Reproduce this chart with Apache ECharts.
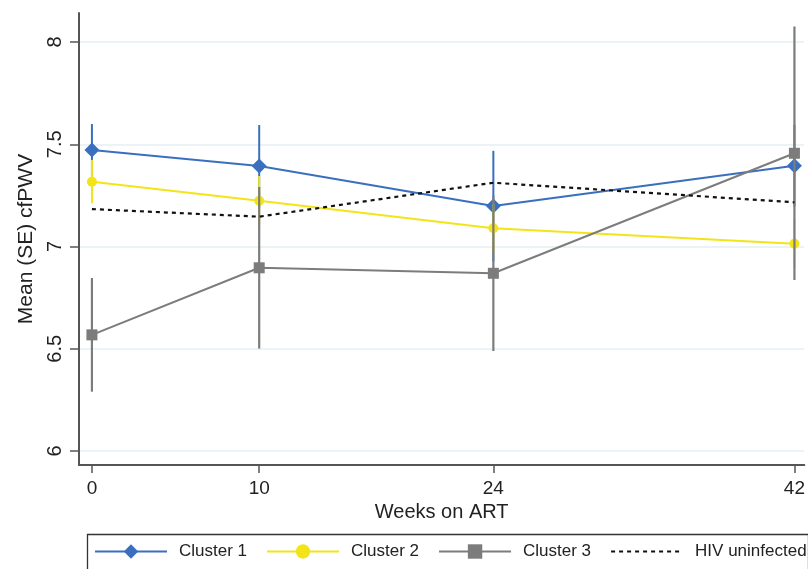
<!DOCTYPE html>
<html>
<head>
<meta charset="utf-8">
<script src="https://cdn.jsdelivr.net/npm/echarts@6/dist/echarts.min.js"></script>
<style>
html,body{margin:0;padding:0;background:#fff;}
#chart{width:808px;height:569px;}
</style>
</head>
<body>
<div id="chart"></div>
<script>
// ---- data ----
var weeks = [0, 10, 24, 42];
var xTicks = [0, 10, 24, 42];
var yTicks = [6, 6.5, 7, 7.5, 8];

var cluster1Mean = [7.472, 7.394, 7.198, 7.395];
var cluster1SE   = [0.127, 0.200, 0.270, 0.200];
var cluster2Mean = [7.317, 7.224, 7.089, 7.014];
var cluster2SE   = [0.106, 0.121, 0.120, 0.120];
var cluster3Mean = [6.568, 6.896, 6.869, 7.456];
var cluster3SE   = [0.278, 0.395, 0.380, 0.620];
var hivMean      = [7.183, 7.146, 7.312, 7.216];

var seriesNames = ['Cluster 1', 'Cluster 2', 'Cluster 3', 'HIV uninfected'];

// ---- styling ----
var FONT = "'Liberation Sans', Arial, Helvetica, sans-serif";
var C1 = '#3a6fc0', C2 = '#f3e41a', C3 = '#7c7c7c', AX = '#555555';

function pts(means) { return weeks.map(function (w, i) { return [w, means[i]]; }); }
function bars(means, se) { return weeks.map(function (w, i) { return [w, means[i] - se[i], means[i] + se[i]]; }); }

function errSeries(means, se, color, width, z) {
  return {
    type: 'custom',
    z: z,
    silent: true,
    data: bars(means, se),
    encode: { x: 0, y: [1, 2] },
    renderItem: function (params, api) {
      var x = api.value(0), lo = api.value(1), hi = api.value(2);
      var p1 = api.coord([x, lo]), p2 = api.coord([x, hi]);
      return { type: 'line', shape: { x1: p1[0], y1: p1[1], x2: p2[0], y2: p2[1] },
               style: { stroke: color, lineWidth: width } };
    }
  };
}

var legendData = seriesNames.map(function (n, i) {
  return i === 3 ? { name: n, itemStyle: { opacity: 0 } } : { name: n };
});

var chart = echarts.init(document.getElementById('chart'), null, { renderer: 'canvas' });
chart.setOption({
  animation: false,
  backgroundColor: '#ffffff',
  textStyle: { fontFamily: FONT },
  grid: { left: 79, right: 0, top: 13, bottom: 104, containLabel: false },
  xAxis: {
    type: 'value',
    min: -0.773, max: 42.59,
    name: 'Weeks on ART',
    nameLocation: 'middle',
    nameGap: 33,
    nameTextStyle: { fontSize: 20, color: '#222', fontFamily: FONT },
    axisLine: { show: true, onZero: false, lineStyle: { color: AX, width: 2 } },
    axisTick: { show: true, length: 8, customValues: xTicks, lineStyle: { color: AX, width: 1.5 } },
    axisLabel: { customValues: xTicks, fontSize: 19, color: '#222', margin: 14, fontFamily: FONT },
    splitLine: { show: false }
  },
  yAxis: {
    type: 'value',
    min: 5.9315, max: 8.142,
    name: 'Mean (SE) cfPWV',
    nameLocation: 'middle',
    nameGap: 42,
    nameTextStyle: { fontSize: 21, color: '#222', fontFamily: FONT },
    axisLine: { show: true, onZero: false, lineStyle: { color: AX, width: 2 } },
    axisTick: { show: true, length: 9, customValues: yTicks, lineStyle: { color: AX, width: 1.5 } },
    axisLabel: { customValues: yTicks, rotate: 90, fontSize: 20, color: '#222', margin: 14, fontFamily: FONT,
                 formatter: function (v) { return String(v); } },
    splitLine: { show: true, lineStyle: { color: '#e6eff3', width: 1.5 } }
  },
  legend: {
    left: 94, top: 543, width: 714,
    itemWidth: 72, itemHeight: 18, itemGap: 19,
    padding: 0,
    textStyle: { fontSize: 17, color: '#222', fontFamily: FONT, padding: [0, 0, 0, 7] },
    data: legendData
  },
  graphic: [{
    type: 'rect', left: 85, top: 532, silent: true,
    shape: { width: 721, height: 60 },
    style: { fill: 'none', stroke: '#333', lineWidth: 1.3 }
  }],
  series: [
    errSeries(cluster1Mean, cluster1SE, C1, 2, 2),
    { name: 'Cluster 1', type: 'line', z: 3, data: pts(cluster1Mean),
      symbol: 'diamond', symbolSize: 15, lineStyle: { color: C1, width: 2 },
      itemStyle: { color: C1 } },
    errSeries(cluster2Mean, cluster2SE, C2, 2, 4),
    { name: 'Cluster 2', type: 'line', z: 5, data: pts(cluster2Mean),
      symbol: 'circle', symbolSize: 10, lineStyle: { color: C2, width: 2 },
      itemStyle: { color: C2 } },
    errSeries(cluster3Mean, cluster3SE, C3, 2.2, 6),
    { name: 'Cluster 3', type: 'line', z: 7, data: pts(cluster3Mean),
      symbol: 'rect', symbolSize: 11, lineStyle: { color: C3, width: 2 },
      itemStyle: { color: C3 } },
    { name: 'HIV uninfected', type: 'line', z: 8, data: pts(hivMean),
      symbol: 'none', lineStyle: { color: '#111', width: 2.2, type: [4, 4] },
      itemStyle: { color: '#111' } }
  ]
});
</script>
</body>
</html>
